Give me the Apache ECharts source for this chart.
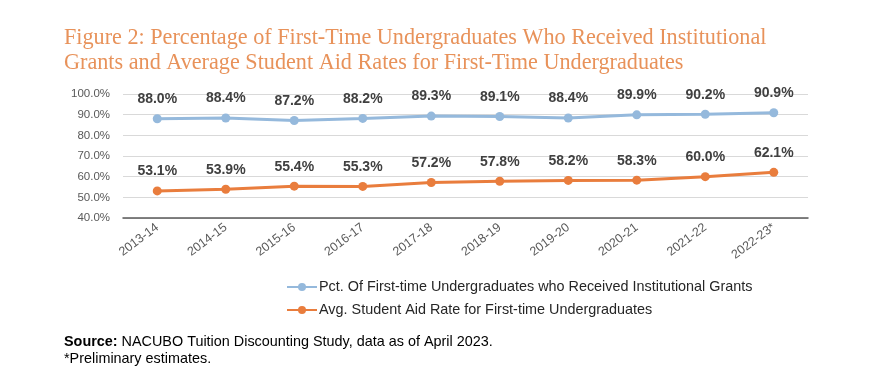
<!DOCTYPE html>
<html>
<head>
<meta charset="utf-8">
<script src="https://cdn.jsdelivr.net/npm/echarts@6/dist/echarts.min.js"></script>
<style>
html,body{margin:0;padding:0;background:#fff;}
#chart{width:869px;height:381px;}
</style>
</head>
<body>
<div id="chart"></div>
<script>
const categories = ['2013-14','2014-15','2015-16','2016-17','2017-18','2018-19','2019-20','2020-21','2021-22','2022-23*'];
const pctInstitutionalGrants = [88.0, 88.4, 87.2, 88.2, 89.3, 89.1, 88.4, 89.9, 90.2, 90.9];
const avgStudentAidRate = [53.1, 53.9, 55.4, 55.3, 57.2, 57.8, 58.2, 58.3, 60.0, 62.1];
const seriesNames = ['Pct. Of First-time Undergraduates who Received Institutional Grants', 'Avg. Student Aid Rate for First-time Undergraduates'];
const yMin = 40, yMax = 100, yStep = 10;
const titleText = 'Figure 2: Percentage of First-Time Undergraduates Who Received Institutional\nGrants and Average Student Aid Rates for First-Time Undergraduates';

const chart = echarts.init(document.getElementById('chart'));
const pctFmt = v => v.toFixed(1) + '%';
const labelFont = "'Liberation Sans', 'DejaVu Sans', sans-serif";

function lineSeries(name, data, color) {
  return {
    name, type: 'line', data,
    symbol: 'circle', symbolSize: 9,
    lineStyle: { color, width: 3 },
    itemStyle: { color },
    label: {
      show: true, position: 'top', distance: 8,
      formatter: p => pctFmt(p.value),
      fontFamily: labelFont, fontWeight: 'bold', fontSize: 14, color: '#404040'
    },
    emphasis: { disabled: true },
    animation: false
  };
}

chart.setOption({
  animation: false,
  backgroundColor: '#ffffff',
  title: {
    text: titleText,
    left: 59, top: 21,
    textStyle: {
      fontFamily: "'Liberation Serif', 'DejaVu Serif', serif",
      fontWeight: 'normal', fontSize: 22.2, lineHeight: 25, color: '#E8925A'
    }
  },
  grid: { left: 123, right: 61, top: 94, bottom: 163, containLabel: false },
  legend: {
    orient: 'vertical', left: 286, top: 280, padding: 0,
    itemWidth: 30, itemHeight: 10, itemGap: 9,
    data: seriesNames,
    textStyle: { fontFamily: labelFont, fontSize: 14.4, color: '#262626', padding: [0,0,0,-3] },
    selectedMode: false
  },
  xAxis: {
    type: 'category', data: categories, boundaryGap: true,
    axisLine: { lineStyle: { color: '#595959', width: 1.5 } },
    axisTick: { alignWithLabel: true, length: 4, lineStyle: { color: '#595959' } },
    axisLabel: { rotate: 37, margin: 8, fontFamily: labelFont, fontSize: 12.5, color: '#595959', interval: 0 }
  },
  yAxis: {
    type: 'value', min: yMin, max: yMax, interval: yStep,
    axisLine: { show: false }, axisTick: { show: false },
    splitLine: { lineStyle: { color: '#D9D9D9', width: 1.2 } },
    axisLabel: { formatter: v => pctFmt(v), fontFamily: labelFont, fontSize: 11.5, color: '#595959', margin: 13 }
  },
  series: [
    lineSeries(seriesNames[0], pctInstitutionalGrants, '#95B9DC'),
    lineSeries(seriesNames[1], avgStudentAidRate, '#E97D3D')
  ],
  graphic: [
    {
      type: 'text', left: 64, top: 335,
      style: {
        text: '{b|Source:} NACUBO Tuition Discounting Study, data as of April 2023.',
        rich: { b: { fontWeight: 'bold', fontFamily: labelFont, fontSize: 14.4, fill: '#000' } },
        fontFamily: labelFont, fontSize: 14.4, fill: '#000'
      }
    },
    {
      type: 'text', left: 64, top: 352,
      style: { text: '*Preliminary estimates.', fontFamily: labelFont, fontSize: 14.4, fill: '#000' }
    }
  ]
});
</script>
</body>
</html>
